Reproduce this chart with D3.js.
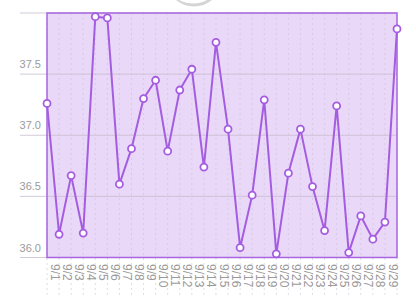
<!DOCTYPE html>
<html>
<head>
<meta charset="utf-8">
<script src="https://cdn.jsdelivr.net/npm/d3@7"></script>
<style>
  html, body { margin: 0; padding: 0; background: #fff; }
  svg { display: block; font-family: "Helvetica Neue", "Liberation Sans", Arial, sans-serif; }
</style>
</head>
<body>
<svg id="chart" width="416" height="298"></svg>
<script>
const days = ["9/1","9/2","9/3","9/4","9/5","9/6","9/7","9/8","9/9","9/10",
  "9/11","9/12","9/13","9/14","9/15","9/16","9/17","9/18","9/19","9/20",
  "9/21","9/22","9/23","9/24","9/25","9/26","9/27","9/28","9/29","9/30"];
const temps = [37.26, 36.19, 36.67, 36.2, 37.97, 37.96, 36.6, 36.89, 37.3, 37.45,
  36.87, 37.37, 37.54, 36.74, 37.76, 37.05, 36.08, 36.51, 37.29, 36.03,
  36.69, 37.05, 36.58, 36.22, 37.24, 36.04, 36.34, 36.15, 36.29, 37.87];
const yTicks = [36.0, 36.5, 37.0, 37.5];

const width = 416;
const height = 298;
const plotLeft = 47, plotRight = 397, plotTop = 13, plotBottom = 257.5;

const svg = d3.select("#chart");

const x = d3.scalePoint().domain(days).range([plotLeft, plotRight]);
const y = d3.scaleLinear().domain([36, 38]).range([plotBottom, plotTop]);

// switch knob peeking in at the top
svg.append("ellipse")
  .attr("cx", 194).attr("cy", -14).attr("rx", 23).attr("ry", 19)
  .attr("fill", "#fff").attr("stroke", "#d4d4d4").attr("stroke-width", 3);
svg.append("ellipse")
  .attr("cx", 191).attr("cy", -15).attr("rx", 21).attr("ry", 18)
  .attr("fill", "#fff");

// plot background
svg.append("rect")
  .attr("x", plotLeft).attr("y", plotTop)
  .attr("width", plotRight - plotLeft).attr("height", plotBottom - plotTop)
  .attr("fill", "#ead8f8");

// vertical dashed grid
svg.append("g")
  .selectAll("line")
  .data(days)
  .join("line")
  .attr("x1", d => x(d)).attr("x2", d => x(d))
  .attr("y1", plotTop).attr("y2", height)
  .attr("stroke", "#c9c0d0")
  .attr("stroke-opacity", 0.7)
  .attr("stroke-dasharray", "2,3")
  .attr("stroke-width", 0.8);

// horizontal grid + labels
svg.append("g")
  .selectAll("line")
  .data(yTicks.concat([38]))
  .join("line")
  .attr("x1", 20).attr("x2", plotRight)
  .attr("y1", d => y(d)).attr("y2", d => y(d))
  .attr("stroke", "#c8bccf")
  .attr("stroke-width", 0.8);

svg.append("g")
  .selectAll("text")
  .data(yTicks)
  .join("text")
  .attr("x", 41)
  .attr("y", d => y(d) - 6)
  .attr("text-anchor", "end")
  .attr("font-size", 11)
  .attr("fill", "#9a9a9a")
  .text(d => d.toFixed(1));

// plot border
svg.append("rect")
  .attr("x", plotLeft).attr("y", plotTop)
  .attr("width", plotRight - plotLeft).attr("height", plotBottom - plotTop)
  .attr("fill", "none")
  .attr("stroke", "#a766e0")
  .attr("stroke-width", 1.5);

// x labels, rotated
svg.append("g")
  .selectAll("text")
  .data(days.slice(0, days.length - 1))
  .join("text")
  .attr("transform", d => `translate(${x(d)},264) rotate(90)`)
  .attr("font-size", 12)
  .attr("fill", "#9a9a9a")
  .attr("dy", "-0.3em")
  .attr("text-anchor", "start")
  .text(d => d);

// line
const line = d3.line()
  .x((d, i) => x(days[i]))
  .y(d => y(d));

svg.append("path")
  .datum(temps)
  .attr("d", line)
  .attr("fill", "none")
  .attr("stroke", "#a45de0")
  .attr("stroke-width", 2)
  .attr("stroke-linejoin", "round");

svg.append("g")
  .selectAll("circle")
  .data(temps)
  .join("circle")
  .attr("cx", (d, i) => x(days[i]))
  .attr("cy", d => y(d))
  .attr("r", 3.5)
  .attr("fill", "#fff")
  .attr("stroke", "#a45de0")
  .attr("stroke-width", 1.8);
</script>
</body>
</html>
